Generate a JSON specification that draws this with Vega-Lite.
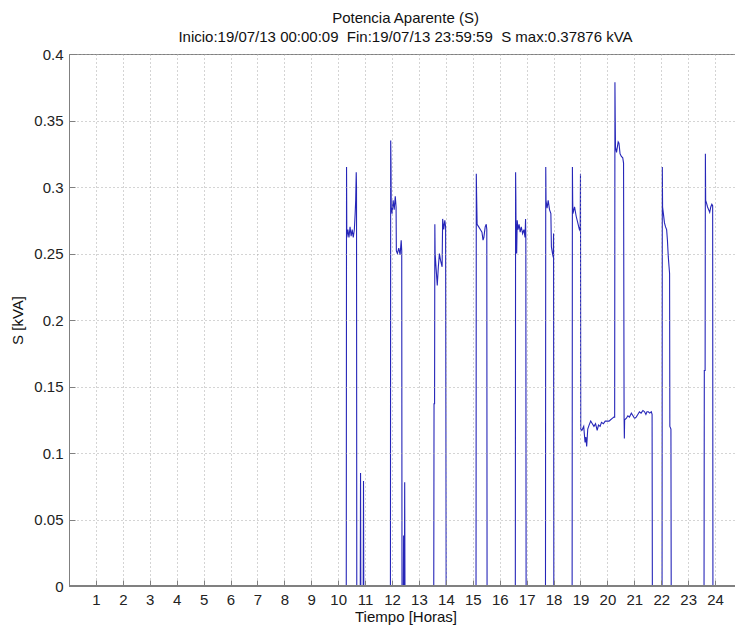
{
  "$schema": "https://vega.github.io/schema/vega-lite/v6.json",
  "width": 673,
  "height": 532,
  "autosize": "none",
  "padding": {"left": 69, "top": 54, "right": 0, "bottom": 40},
  "background": "white",
  "config": {
    "font": "Liberation Sans",
    "view": {"stroke": "#808080", "strokeWidth": 1}
  },
  "title": {
    "text": ["Potencia Aparente (S)", "Inicio:19/07/13 00:00:09\u00a0\u00a0Fin:19/07/13 23:59:59\u00a0\u00a0S max:0.37876 kVA"],
    "fontSize": 15,
    "fontWeight": "normal",
    "color": "#111111",
    "lineHeight": 19,
    "offset": 2,
    "anchor": "middle",
    "frame": "group"
  },
  "data": {
    "values": [
      {"t": 0, "s": 0}, {"t": 10.3, "s": 0},
      {"t": 10.31, "s": 0.315}, {"t": 10.32, "s": 0.262}, {"t": 10.36, "s": 0.268}, {"t": 10.4, "s": 0.262}, {"t": 10.44, "s": 0.27}, {"t": 10.48, "s": 0.263}, {"t": 10.52, "s": 0.268}, {"t": 10.56, "s": 0.262}, {"t": 10.6, "s": 0.268}, {"t": 10.63, "s": 0.28}, {"t": 10.65, "s": 0.29}, {"t": 10.67, "s": 0.311}, {"t": 10.68, "s": 0.3}, {"t": 10.69, "s": 0},
      {"t": 10.82, "s": 0}, {"t": 10.83, "s": 0.085}, {"t": 10.84, "s": 0}, {"t": 10.93, "s": 0}, {"t": 10.94, "s": 0.079}, {"t": 10.95, "s": 0},
      {"t": 11.94, "s": 0}, {"t": 11.95, "s": 0.335}, {"t": 11.96, "s": 0.318}, {"t": 11.97, "s": 0.285}, {"t": 12.0, "s": 0.28}, {"t": 12.04, "s": 0.29}, {"t": 12.08, "s": 0.283}, {"t": 12.12, "s": 0.293}, {"t": 12.15, "s": 0.285}, {"t": 12.16, "s": 0.252}, {"t": 12.2, "s": 0.25}, {"t": 12.25, "s": 0.254}, {"t": 12.3, "s": 0.249}, {"t": 12.34, "s": 0.26}, {"t": 12.36, "s": 0.252}, {"t": 12.37, "s": 0},
      {"t": 12.42, "s": 0}, {"t": 12.43, "s": 0.038}, {"t": 12.44, "s": 0}, {"t": 12.45, "s": 0.035}, {"t": 12.46, "s": 0}, {"t": 12.47, "s": 0.078}, {"t": 12.48, "s": 0},
      {"t": 13.55, "s": 0}, {"t": 13.56, "s": 0.137}, {"t": 13.58, "s": 0.137}, {"t": 13.59, "s": 0.272}, {"t": 13.6, "s": 0.25}, {"t": 13.64, "s": 0.238}, {"t": 13.68, "s": 0.226}, {"t": 13.72, "s": 0.24}, {"t": 13.76, "s": 0.25}, {"t": 13.8, "s": 0.245}, {"t": 13.86, "s": 0.24}, {"t": 13.88, "s": 0.276}, {"t": 13.92, "s": 0.268}, {"t": 13.96, "s": 0.275}, {"t": 13.99, "s": 0.27}, {"t": 14.0, "s": 0.136}, {"t": 14.01, "s": 0},
      {"t": 15.12, "s": 0}, {"t": 15.13, "s": 0.31}, {"t": 15.14, "s": 0.296}, {"t": 15.16, "s": 0.272}, {"t": 15.22, "s": 0.27}, {"t": 15.28, "s": 0.268}, {"t": 15.34, "s": 0.266}, {"t": 15.38, "s": 0.26}, {"t": 15.41, "s": 0.262}, {"t": 15.46, "s": 0.27}, {"t": 15.5, "s": 0.272}, {"t": 15.52, "s": 0.268}, {"t": 15.53, "s": 0},
      {"t": 16.58, "s": 0}, {"t": 16.59, "s": 0.311}, {"t": 16.6, "s": 0.29}, {"t": 16.61, "s": 0.25}, {"t": 16.62, "s": 0.272}, {"t": 16.63, "s": 0.25}, {"t": 16.65, "s": 0.275}, {"t": 16.68, "s": 0.268}, {"t": 16.72, "s": 0.272}, {"t": 16.76, "s": 0.266}, {"t": 16.8, "s": 0.27}, {"t": 16.85, "s": 0.265}, {"t": 16.9, "s": 0.268}, {"t": 16.94, "s": 0.262}, {"t": 16.96, "s": 0.276}, {"t": 16.97, "s": 0.262}, {"t": 16.98, "s": 0},
      {"t": 17.7, "s": 0}, {"t": 17.71, "s": 0.315}, {"t": 17.72, "s": 0.29}, {"t": 17.76, "s": 0.284}, {"t": 17.8, "s": 0.29}, {"t": 17.85, "s": 0.283}, {"t": 17.9, "s": 0.28}, {"t": 17.92, "s": 0.255}, {"t": 17.96, "s": 0.25}, {"t": 17.99, "s": 0.247}, {"t": 18.0, "s": 0.265}, {"t": 18.01, "s": 0},
      {"t": 18.69, "s": 0}, {"t": 18.7, "s": 0.315}, {"t": 18.71, "s": 0.29}, {"t": 18.72, "s": 0.28}, {"t": 18.78, "s": 0.285}, {"t": 18.84, "s": 0.278}, {"t": 18.9, "s": 0.273}, {"t": 18.96, "s": 0.268}, {"t": 18.99, "s": 0.27}, {"t": 19.0, "s": 0.31}, {"t": 19.01, "s": 0.118},
      {"t": 19.05, "s": 0.117}, {"t": 19.12, "s": 0.12}, {"t": 19.17, "s": 0.108}, {"t": 19.2, "s": 0.112}, {"t": 19.23, "s": 0.105}, {"t": 19.27, "s": 0.118}, {"t": 19.32, "s": 0.121}, {"t": 19.38, "s": 0.124}, {"t": 19.44, "s": 0.122}, {"t": 19.5, "s": 0.12}, {"t": 19.56, "s": 0.122}, {"t": 19.62, "s": 0.117}, {"t": 19.67, "s": 0.121}, {"t": 19.73, "s": 0.12}, {"t": 19.78, "s": 0.123}, {"t": 19.85, "s": 0.122}, {"t": 19.92, "s": 0.124}, {"t": 20.0, "s": 0.124}, {"t": 20.06, "s": 0.124}, {"t": 20.12, "s": 0.125}, {"t": 20.18, "s": 0.126}, {"t": 20.24, "s": 0.127}, {"t": 20.27, "s": 0.127},
      {"t": 20.28, "s": 0.37876}, {"t": 20.29, "s": 0.352}, {"t": 20.3, "s": 0.33}, {"t": 20.34, "s": 0.326}, {"t": 20.4, "s": 0.334}, {"t": 20.43, "s": 0.333}, {"t": 20.47, "s": 0.325}, {"t": 20.52, "s": 0.323}, {"t": 20.57, "s": 0.322}, {"t": 20.6, "s": 0.318}, {"t": 20.62, "s": 0.126},
      {"t": 20.63, "s": 0.111}, {"t": 20.64, "s": 0.125}, {"t": 20.7, "s": 0.126}, {"t": 20.76, "s": 0.128}, {"t": 20.82, "s": 0.127}, {"t": 20.89, "s": 0.13}, {"t": 20.95, "s": 0.128}, {"t": 21.01, "s": 0.126}, {"t": 21.07, "s": 0.127}, {"t": 21.13, "s": 0.129}, {"t": 21.19, "s": 0.131}, {"t": 21.25, "s": 0.13}, {"t": 21.32, "s": 0.132}, {"t": 21.38, "s": 0.131}, {"t": 21.43, "s": 0.129}, {"t": 21.47, "s": 0.131}, {"t": 21.52, "s": 0.131}, {"t": 21.57, "s": 0.13}, {"t": 21.63, "s": 0.131}, {"t": 21.66, "s": 0.129}, {"t": 21.67, "s": 0},
      {"t": 22.03, "s": 0}, {"t": 22.04, "s": 0.315}, {"t": 22.05, "s": 0.285}, {"t": 22.08, "s": 0.28}, {"t": 22.12, "s": 0.273}, {"t": 22.16, "s": 0.27}, {"t": 22.2, "s": 0.268}, {"t": 22.23, "s": 0.26}, {"t": 22.26, "s": 0.248}, {"t": 22.29, "s": 0.24}, {"t": 22.31, "s": 0.235}, {"t": 22.32, "s": 0.12}, {"t": 22.36, "s": 0.118}, {"t": 22.37, "s": 0},
      {"t": 23.59, "s": 0}, {"t": 23.6, "s": 0.162}, {"t": 23.63, "s": 0.162}, {"t": 23.64, "s": 0.325}, {"t": 23.65, "s": 0.29}, {"t": 23.68, "s": 0.288}, {"t": 23.72, "s": 0.285}, {"t": 23.76, "s": 0.283}, {"t": 23.8, "s": 0.281}, {"t": 23.84, "s": 0.285}, {"t": 23.88, "s": 0.287}, {"t": 23.91, "s": 0.286}, {"t": 23.92, "s": 0},
      {"t": 24.0, "s": 0}
    ]
  },
  "encoding": {
    "x": {
      "field": "t",
      "type": "quantitative",
      "scale": {"domain": [0, 25], "nice": false, "zero": false},
      "axis": {
        "values": [1, 2, 3, 4, 5, 6, 7, 8, 9, 10, 11, 12, 13, 14, 15, 16, 17, 18, 19, 20, 21, 22, 23, 24],
        "title": "Tiempo [Horas]",
        "titleFontSize": 15,
        "titleFontWeight": "normal",
        "titleColor": "#111111",
        "titlePadding": 2,
        "labelFontSize": 15,
        "labelColor": "#222222",
        "labelPadding": 12,
        "labelOverlap": false,
        "labelFlush": false,
        "domainColor": "#808080",
        "tickColor": "#808080",
        "tickSize": -6,
        "grid": true,
        "gridColor": "#a8a8a8",
        "gridDash": [1, 3],
        "zindex": 1
      }
    },
    "y": {
      "field": "s",
      "type": "quantitative",
      "scale": {"domain": [0, 0.4], "nice": false},
      "axis": {
        "values": [0, 0.05, 0.1, 0.15, 0.2, 0.25, 0.3, 0.35, 0.4],
        "format": ".2~f",
        "title": "S [kVA]",
        "titleFontSize": 15,
        "titleFontWeight": "normal",
        "titleColor": "#111111",
        "titlePadding": 8,
        "labelFontSize": 15,
        "labelColor": "#222222",
        "labelPadding": 12,
        "labelOverlap": false,
        "labelFlush": false,
        "domainColor": "#808080",
        "tickColor": "#808080",
        "tickSize": -6,
        "grid": true,
        "gridColor": "#a8a8a8",
        "gridDash": [1, 3],
        "zindex": 1
      }
    }
  },
  "layer": [
    {"mark": {"type": "line", "color": "#2626b8", "strokeWidth": 1.1, "clip": true}},
    {
      "mark": {"type": "rule", "color": "#808080", "strokeWidth": 1.6},
      "encoding": {"x": {"datum": 0}, "x2": {"datum": 25}, "y": {"datum": 0}}
    }
  ]
}
